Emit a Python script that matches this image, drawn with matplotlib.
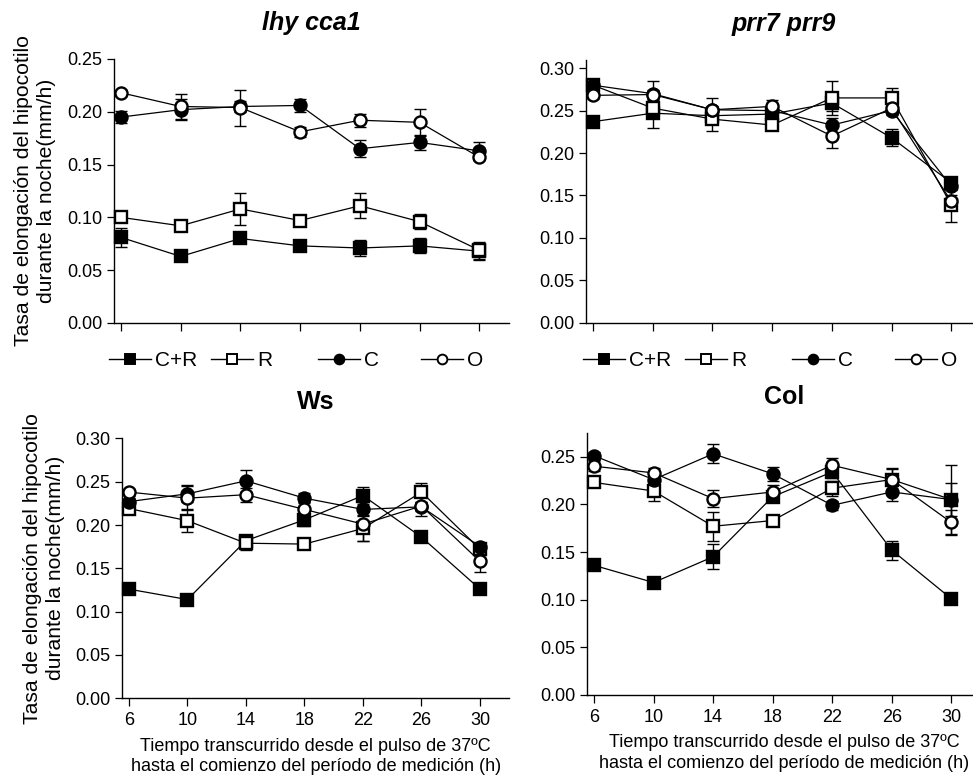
import matplotlib
matplotlib.use('Agg')
import matplotlib.pyplot as plt
from matplotlib.lines import Line2D

plt.rcParams['font.family'] = ['Liberation Sans', 'DejaVu Sans']

times = [6, 10, 14, 18, 22, 26, 30]
treatments = ['C+R', 'R', 'C', 'O']

# lhy cca1
lhy_cr = [0.081, 0.063, 0.080, 0.073, 0.071, 0.073, 0.068]
lhy_cr_err = [0.009, 0.002, 0.004, 0.003, 0.008, 0.007, 0.008]
lhy_r = [0.100, 0.092, 0.108, 0.097, 0.111, 0.096, 0.069]
lhy_r_err = [0.003, 0.003, 0.015, 0.003, 0.012, 0.007, 0.008]
lhy_c = [0.195, 0.202, 0.205, 0.206, 0.165, 0.171, 0.163]
lhy_c_err = [0.006, 0.010, 0.005, 0.006, 0.008, 0.007, 0.008]
lhy_o = [0.218, 0.205, 0.204, 0.181, 0.192, 0.190, 0.157]
lhy_o_err = [0.003, 0.012, 0.017, 0.005, 0.006, 0.013, 0.003]

# prr7 prr9
prr_cr = [0.237, 0.247, 0.244, 0.246, 0.259, 0.218, 0.165]
prr_cr_err = [0.004, 0.017, 0.004, 0.004, 0.010, 0.010, 0.004]
prr_r = [0.280, 0.253, 0.240, 0.233, 0.265, 0.265, 0.139]
prr_r_err = [0.004, 0.010, 0.014, 0.004, 0.020, 0.012, 0.020]
prr_c = [0.280, 0.270, 0.251, 0.250, 0.233, 0.250, 0.161]
prr_c_err = [0.004, 0.004, 0.004, 0.004, 0.008, 0.005, 0.005]
prr_o = [0.268, 0.269, 0.251, 0.255, 0.220, 0.253, 0.143]
prr_o_err = [0.004, 0.016, 0.014, 0.008, 0.014, 0.005, 0.008]

# Ws
ws_cr = [0.126, 0.114, 0.182, 0.206, 0.234, 0.186, 0.126]
ws_cr_err = [0.003, 0.003, 0.006, 0.007, 0.010, 0.004, 0.005]
ws_r = [0.219, 0.205, 0.179, 0.178, 0.196, 0.238, 0.172]
ws_r_err = [0.005, 0.013, 0.008, 0.003, 0.015, 0.011, 0.004]
ws_c = [0.227, 0.236, 0.251, 0.231, 0.218, 0.221, 0.175]
ws_c_err = [0.004, 0.010, 0.013, 0.006, 0.008, 0.005, 0.004]
ws_o = [0.238, 0.231, 0.235, 0.218, 0.201, 0.222, 0.158]
ws_o_err = [0.004, 0.014, 0.008, 0.008, 0.020, 0.012, 0.012]

# Col
col_cr = [0.136, 0.118, 0.145, 0.208, 0.234, 0.152, 0.101]
col_cr_err = [0.004, 0.003, 0.013, 0.005, 0.006, 0.010, 0.003]
col_r = [0.223, 0.214, 0.177, 0.183, 0.217, 0.226, 0.205]
col_r_err = [0.004, 0.010, 0.015, 0.004, 0.008, 0.012, 0.036]
col_c = [0.251, 0.226, 0.253, 0.232, 0.199, 0.213, 0.205]
col_c_err = [0.004, 0.004, 0.010, 0.007, 0.005, 0.010, 0.017]
col_o = [0.240, 0.233, 0.206, 0.213, 0.241, 0.226, 0.181]
col_o_err = [0.005, 0.005, 0.009, 0.007, 0.008, 0.011, 0.013]

styles = {'C+R': ('s', 'k'), 'R': ('s', 'white'), 'C': ('o', 'k'), 'O': ('o', 'white')}

ylabel = 'Tasa de elongación del hipocotilo\ndurante la noche(mm/h)'
xlabel = 'Tiempo transcurrido desde el pulso de 37ºC\nhasta el comienzo del período de medición (h)'

panels = [
    ([0.1172, 0.5838, 0.406, 0.3402], 'lhy cca1', 'italic', 0.25,
     [lhy_cr, lhy_r, lhy_c, lhy_o], [lhy_cr_err, lhy_r_err, lhy_c_err, lhy_o_err], True, False),
    ([0.6023, 0.5842, 0.406, 0.3388], 'prr7 prr9', 'italic', 0.31,
     [prr_cr, prr_r, prr_c, prr_o], [prr_cr_err, prr_r_err, prr_c_err, prr_o_err], False, False),
    ([0.1254, 0.1001, 0.398, 0.335], 'Ws', 'normal', 0.30,
     [ws_cr, ws_r, ws_c, ws_o], [ws_cr_err, ws_r_err, ws_c_err, ws_o_err], True, True),
    ([0.6033, 0.1044, 0.405, 0.3378], 'Col', 'normal', 0.275,
     [col_cr, col_r, col_c, col_o], [col_cr_err, col_r_err, col_c_err, col_o_err], False, True),
]

fig = plt.figure(figsize=(9.73, 7.76), dpi=100)

for rect, title, fstyle, ytop, series, errs, show_ylabel, show_xlabel in panels:
    ax = fig.add_axes(rect)
    for name, vals, err in zip(treatments, series, errs):
        marker, face = styles[name]
        ax.errorbar(times, vals, yerr=err, fmt='none', ecolor='k', elinewidth=1.0,
                    capsize=4, capthick=1.0, zorder=1, clip_on=False)
        ax.plot(times, vals, color='k', lw=0.9, marker=marker, ms=8.7, mfc=face,
                mec='k', mew=1.7, zorder=3, clip_on=False)
    ax.set_xlim(5.53, 32)
    ax.set_ylim(0, ytop)
    ax.set_xticks(times)
    ax.set_yticks([0, 0.05, 0.10, 0.15, 0.20, 0.25] + ([0.30] if ytop >= 0.30 else []))
    ax.set_yticklabels(['%.2f' % v for v in ax.get_yticks()])
    ax.spines['top'].set_visible(False)
    ax.spines['right'].set_visible(False)
    ax.spines['left'].set_linewidth(1.0)
    ax.spines['bottom'].set_linewidth(1.0)
    ax.tick_params(axis='y', length=5, width=0.9, pad=3.5, labelsize=13)
    ax.tick_params(axis='x', length=6, width=0.9, pad=4, labelsize=13)
    if not show_xlabel:
        ax.tick_params(axis='x', labelbottom=False)
    else:
        ax.set_xlabel(xlabel, fontsize=13, labelpad=6, linespacing=1.28)
    if show_ylabel:
        ax.set_ylabel(ylabel, fontsize=15.2, linespacing=1.28)
        ax.yaxis.set_label_coords(-0.147, 0.5)
    ax.set_title(title, fontsize=18, fontweight='bold', fontstyle=fstyle, pad=21)

# legends between the rows, one entry each
legend_x = [109, 211, 318, 421]
for offset in [0, 474]:
    for name, xpix in zip(treatments, legend_x):
        marker, face = styles[name]
        h = Line2D([], [], color='k', lw=1.0, marker=marker, ms=7, mfc=face, mec='k', mew=1.4)
        fig.legend([h], [name], loc='center left',
                   bbox_to_anchor=((xpix + offset) / 973, 1 - 361 / 776),
                   frameon=False, fontsize=15, handlelength=2.0, handletextpad=0.2,
                   borderpad=0, borderaxespad=0)

plt.savefig('out.png', dpi=100)
